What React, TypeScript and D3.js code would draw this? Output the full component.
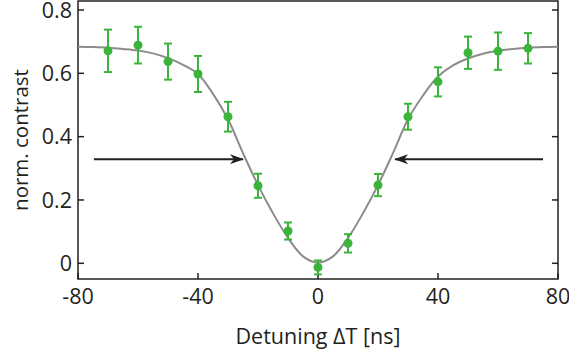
import React from "react";
import * as d3 from "d3";

const detuning = [-70, -60, -50, -40, -30, -20, -10, 0, 10, 20, 30, 40, 50, 60, 70];
const contrast = [0.671, 0.689, 0.637, 0.598, 0.463, 0.245, 0.102, -0.013, 0.063, 0.247, 0.463, 0.573, 0.665, 0.67, 0.679];
const errors = [0.067, 0.058, 0.057, 0.057, 0.047, 0.038, 0.027, 0.022, 0.029, 0.035, 0.041, 0.046, 0.051, 0.059, 0.048];

const fitX = [-80, -75, -70, -65, -60, -55, -50, -45, -40, -35, -30, -25, -20, -15, -10, -5, 0, 5, 10, 15, 20, 25, 30, 35, 40, 45, 50, 55, 60, 65, 70, 75, 80];
const fitY = [0.684, 0.683, 0.681, 0.677, 0.672, 0.663, 0.648, 0.627, 0.598, 0.535, 0.455, 0.348, 0.247, 0.158, 0.08, 0.022, 0.002, 0.022, 0.08, 0.158, 0.247, 0.348, 0.455, 0.53, 0.59, 0.625, 0.647, 0.662, 0.671, 0.677, 0.681, 0.683, 0.684];

const xTicks = [-80, -40, 0, 40, 80];
const yTicks = [0, 0.2, 0.4, 0.6, 0.8];
const yTickLabels = ["0", "0.2", "0.4", "0.6", "0.8"];

// arrows: [fromX, toX, level]
const arrows = [
  [-74.7, -25, 0.329],
  [75, 25.7, 0.329],
];

const xLabel = "Detuning \u0394T [ns]";
const yLabel = "norm. contrast";

export default function App() {
  const W = 569, H = 355;
  const left = 78, right = 558, top = 1, bottom = 279;
  const x = d3.scaleLinear().domain([-80, 80]).range([left, right]);
  const y = d3.scaleLinear().domain([0, 0.8]).range([263.3, 10]);
  const ink = "#231f20";
  const green = "#3cb43c";
  const font = "'Open Sans', sans-serif";

  const line = d3
    .line<number>()
    .x((_, i) => x(fitX[i]))
    .y((d) => y(d))
    .curve(d3.curveCatmullRom);

  return (
    <svg width={W} height={H} style={{ position: "absolute", left: 0, top: 0 }} fontFamily={font}>
      <defs>
        <marker id="ah" viewBox="0 0 14 10" refX="13" refY="5" markerWidth="14" markerHeight="10" markerUnits="userSpaceOnUse" orient="auto">
          <path d="M0,0 L14,5 L0,10 L4,5 Z" fill={ink} />
        </marker>
      </defs>
      {/* frame */}
      <rect x={left} y={top} width={right - left} height={bottom - top} fill="none" stroke={ink} strokeWidth={1.5} />
      {/* y ticks */}
      {yTicks.map((t, i) => (
        <g key={"y" + i}>
          <line x1={left} x2={left + 6} y1={y(t)} y2={y(t)} stroke={ink} strokeWidth={1.5} />
          <line x1={right - 6} x2={right} y1={y(t)} y2={y(t)} stroke={ink} strokeWidth={1.5} />
          <text x={left - 6} y={y(t)} dy="0.36em" textAnchor="end" fontSize={21.5} fill={ink}>
            {yTickLabels[i]}
          </text>
        </g>
      ))}
      {/* x ticks */}
      {xTicks.map((t, i) => (
        <g key={"x" + i}>
          <line x1={x(t)} x2={x(t)} y1={bottom} y2={bottom - 6} stroke={ink} strokeWidth={1.5} />
          <text x={x(t)} y={304} textAnchor="middle" fontSize={21.5} fill={ink}>
            {(t < 0 ? "-" : "") + Math.abs(t)}
          </text>
        </g>
      ))}
      {/* fit */}
      <path d={line(fitY) || ""} fill="none" stroke="#8c8c8c" strokeWidth={2} />
      {/* arrows */}
      {arrows.map((a, i) => (
        <line key={"a" + i} x1={x(a[0])} x2={x(a[1])} y1={y(a[2])} y2={y(a[2])} stroke={ink} strokeWidth={2} markerEnd="url(#ah)" />
      ))}
      {/* data */}
      {detuning.map((d, i) => {
        const cx = x(d);
        const y1 = y(contrast[i] + errors[i]);
        const y2 = y(contrast[i] - errors[i]);
        return (
          <g key={"p" + i}>
            <line x1={cx} x2={cx} y1={y1} y2={y2} stroke={green} strokeWidth={2} />
            <line x1={cx - 4} x2={cx + 4} y1={y1} y2={y1} stroke={green} strokeWidth={2} />
            <line x1={cx - 4} x2={cx + 4} y1={y2} y2={y2} stroke={green} strokeWidth={2} />
            <circle cx={cx} cy={y(contrast[i])} r={4.5} fill={green} />
          </g>
        );
      })}
      {/* labels */}
      <text x={(left + right) / 2} y={344} textAnchor="middle" fontSize={21.5} fill={ink}>
        {xLabel}
      </text>
      <text transform={`translate(28,140) rotate(-90)`} textAnchor="middle" fontSize={20.5} fill={ink}>
        {yLabel}
      </text>
    </svg>
  );
}
